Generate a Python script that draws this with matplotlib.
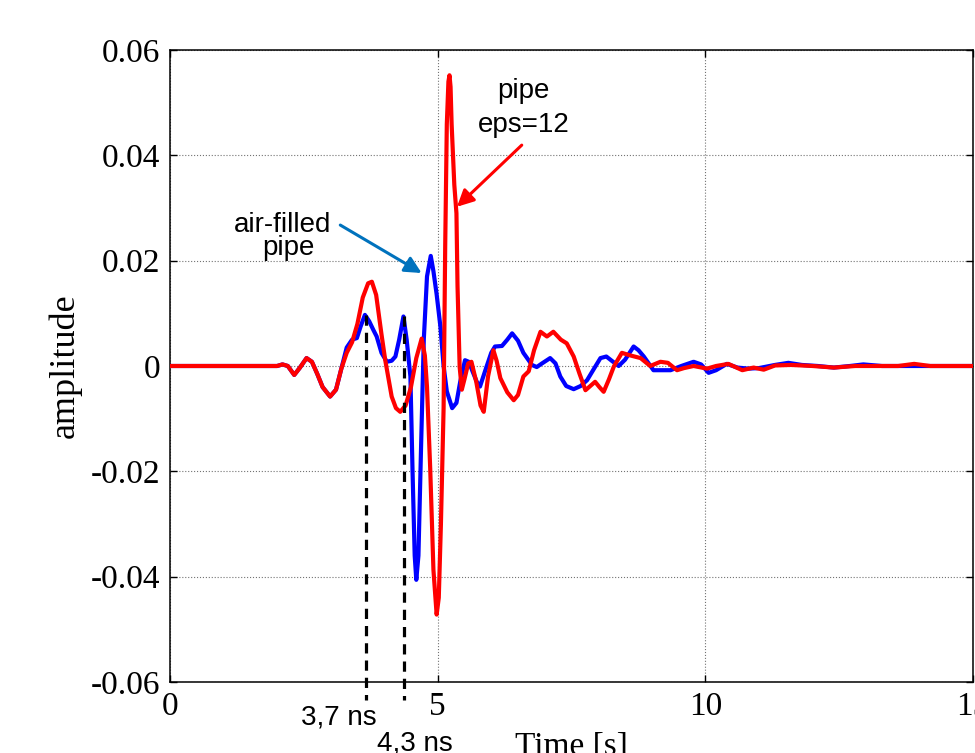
import numpy as np
import matplotlib
matplotlib.use("Agg")
import matplotlib.pyplot as plt

plt.rcParams['axes.unicode_minus'] = False

# air-filled pipe (blue)
t_air = [0, 2.0, 2.1, 2.2, 2.32, 2.42, 2.55, 2.65, 2.75, 2.85, 2.99, 3.1, 3.2,
         3.3, 3.4, 3.49, 3.56, 3.64, 3.72, 3.80, 3.86, 3.95, 4.05, 4.14, 4.21,
         4.28, 4.36, 4.42, 4.49, 4.53, 4.57, 4.60, 4.64, 4.69, 4.74, 4.80, 4.87,
         4.92, 4.98, 5.05, 5.11, 5.17, 5.27, 5.35, 5.42, 5.51, 5.58, 5.65, 5.73,
         5.79, 5.90, 6.0, 6.07, 6.2, 6.30, 6.39, 6.50, 6.60, 6.67, 6.76, 6.85,
         6.95, 7.10, 7.20, 7.29, 7.40, 7.54, 7.67, 7.79, 7.92, 8.04, 8.15, 8.25,
         8.38, 8.50, 8.66, 8.75, 8.85, 9.03, 9.2, 9.35, 9.55, 9.78, 9.92, 10.06,
         10.2, 10.4, 10.6, 10.8, 11.0, 11.3, 11.55, 11.8, 12.1, 12.4, 12.7,
         12.95, 13.3, 13.7, 14.2, 14.6, 15.0]
a_air = [0, 0, 0.0003, 0.0, -0.0017, -0.0004, 0.0015, 0.0008, -0.0015, -0.0040,
         -0.0058, -0.0045, -0.0005, 0.0035, 0.0050, 0.0053, 0.0075, 0.0097,
         0.0085, 0.0068, 0.0056, 0.0025, 0.0008, 0.0010, 0.0018, 0.0050, 0.0094,
         0.0050, -0.0020, -0.0200, -0.0360, -0.0406, -0.0360, -0.0150, 0.0050,
         0.0170, 0.0209, 0.0180, 0.0136, 0.0075, 0.0, -0.0048, -0.0080, -0.0070,
         -0.0030, 0.0011, 0.0008, -0.0010, -0.0030, -0.0039, -0.0005, 0.0025,
         0.0037, 0.0038, 0.0050, 0.0062, 0.0048, 0.0025, 0.0015, 0.0002, -0.0002,
         0.0005, 0.0015, 0.0005, -0.0020, -0.0038, -0.0044, -0.0038, -0.0027,
         -0.0005, 0.0015, 0.0018, 0.0010, 0.0, 0.0012, 0.0037, 0.0030, 0.0018,
         -0.0008, -0.0008, -0.0008, 0.0, 0.0008, 0.0003, -0.0013, -0.0008,
         0.0004, -0.0003, -0.0005, -0.0004, 0.0002, 0.0006, 0.0002, 0.0, -0.0003,
         0.0, 0.0003, 0.0, 0.0, 0.0, 0.0, 0.0]

# pipe with eps=12 (red)
t_eps = [0, 2.0, 2.1, 2.2, 2.32, 2.42, 2.55, 2.65, 2.75, 2.85, 2.99, 3.1, 3.2,
         3.3, 3.4, 3.5, 3.6, 3.7, 3.77, 3.85, 3.95, 4.02, 4.14, 4.22, 4.30,
         4.40, 4.50, 4.60, 4.70, 4.76, 4.80, 4.86, 4.92, 4.98, 5.02, 5.06, 5.11,
         5.14, 5.17, 5.20, 5.22, 5.24, 5.26, 5.31, 5.35, 5.37, 5.41, 5.45, 5.50,
         5.57, 5.63, 5.72, 5.80, 5.86, 5.94, 6.04, 6.10, 6.17, 6.30, 6.42, 6.50,
         6.60, 6.70, 6.80, 6.92, 7.04, 7.16, 7.30, 7.41, 7.54, 7.65, 7.76, 7.85,
         7.94, 8.02, 8.10, 8.20, 8.29, 8.44, 8.60, 8.79, 8.97, 9.16, 9.30, 9.47,
         9.60, 9.78, 10.03, 10.2, 10.43, 10.69, 10.9, 11.09, 11.3, 11.6, 12.0,
         12.4, 12.8, 13.2, 13.6, 13.9, 14.2, 14.6, 15.0]
a_eps = [0, 0, 0.0003, 0.0, -0.0017, -0.0004, 0.0015, 0.0008, -0.0015, -0.0040,
         -0.0058, -0.0045, -0.0005, 0.0025, 0.0045, 0.0080, 0.0130, 0.0157,
         0.0160, 0.0135, 0.0060, 0.0011, -0.0058, -0.0080, -0.0087, -0.0075,
         -0.0040, 0.0015, 0.0052, 0.0020, -0.0040, -0.0195, -0.0387, -0.0472,
         -0.0440, -0.0300, -0.0080, 0.0228, 0.0459, 0.0540, 0.0552, 0.0530,
         0.0459, 0.0344, 0.0290, 0.0152, -0.0002, -0.0045, -0.0025, 0.0005,
         0.0008, -0.0030, -0.0075, -0.0087, -0.0020, 0.0030, 0.0010, -0.0023,
         -0.0050, -0.0065, -0.0055, -0.0020, -0.0010, 0.0030, 0.0065, 0.0056,
         0.0065, 0.0050, 0.0043, 0.0018, -0.0015, -0.0046, -0.0038, -0.0030,
         -0.0040, -0.0049, -0.0025, -0.0001, 0.0025, 0.0020, 0.0015, 0.0,
         0.0008, 0.0006, -0.0008, -0.0004, 0.0, -0.0005, 0.0, 0.0004, -0.0008,
         -0.0003, -0.0007, 0.0001, 0.0002, 0.0, -0.0003, 0.0, 0.0, 0.0, 0.0004,
         0.0, 0.0, 0.0]

# marked arrival times
t_marks = [3.66, 4.37]
a_marks = [0.0097, 0.0094]
mark_labels = ['3,7 ns', '4,3 ns']

xticks = [0, 5, 10, 15]
yticks = [-0.06, -0.04, -0.02, 0, 0.02, 0.04, 0.06]
ytick_labels = ['-0.06', '-0.04', '-0.02', '0', '0.02', '0.04', '0.06']

serif = 'Liberation Serif'
sans = 'Liberation Sans'

fig = plt.figure(figsize=(9.75, 7.53), dpi=100)
ax = fig.add_axes([0.1744, 0.0943, 0.8236, 0.8393])

ax.plot(t_air, a_air, color=(0, 0, 1), lw=3, zorder=3)
ax.plot(t_eps, a_eps, color=(1, 0, 0), lw=3, zorder=4)

for tm, am in zip(t_marks, a_marks):
    ax.plot([tm, tm], [am, -0.0634], color='k', lw=2.3, ls='--',
            dashes=(3.2, 2.2), clip_on=False, zorder=5)

ax.text(3.16, -0.0681, mark_labels[0], family=sans, fontsize=20,
        ha='center', va='baseline', clip_on=False)
ax.text(4.58, -0.0730, mark_labels[1], family=sans, fontsize=20,
        ha='center', va='baseline', clip_on=False)

ax.set_xlim(0, 15)
ax.set_ylim(-0.06, 0.06)
ax.set_xticks(xticks)
ax.set_xticklabels([str(v) for v in xticks])
ax.set_yticks(yticks)
ax.set_yticklabels(ytick_labels)
ax.tick_params(direction='in', length=5, width=1, top=True, right=True,
               labelsize=24, pad=7)
for lab in ax.get_xticklabels() + ax.get_yticklabels():
    lab.set_family(serif)
ax.grid(True, ls=':', color='0.45', lw=0.8)
for sp in ax.spines.values():
    sp.set_linewidth(1.1)

ax.set_xlabel('Time [s]', family=serif, fontsize=24)
ax.xaxis.set_label_coords(0.5, -0.079)
ax.set_ylabel('amplitude', family=serif, fontsize=26)
ax.yaxis.set_label_coords(-0.11, 0.5)

# annotations
ax.text(2.11, 0.02543, 'air-filled', family=sans, fontsize=20,
        ha='center', va='baseline')
ax.text(2.22, 0.02106, 'pipe', family=sans, fontsize=20,
        ha='center', va='baseline')
ax.annotate('', xy=(4.70, 0.01765), xytext=(3.18, 0.02676),
            arrowprops=dict(arrowstyle='-|>', color='#0072BD', lw=2.2,
                            mutation_scale=25, shrinkA=0, shrinkB=0))

ax.text(6.60, 0.05085, 'pipe', family=sans, fontsize=20,
        ha='center', va='baseline')
ax.text(6.60, 0.04446, 'eps=12', family=sans, fontsize=20,
        ha='center', va='baseline')
ax.annotate('', xy=(5.36, 0.03023), xytext=(6.57, 0.04194),
            arrowprops=dict(arrowstyle='-|>', color='red', lw=2.2,
                            mutation_scale=25, shrinkA=0, shrinkB=0))

fig.savefig('out.png', dpi=100)
